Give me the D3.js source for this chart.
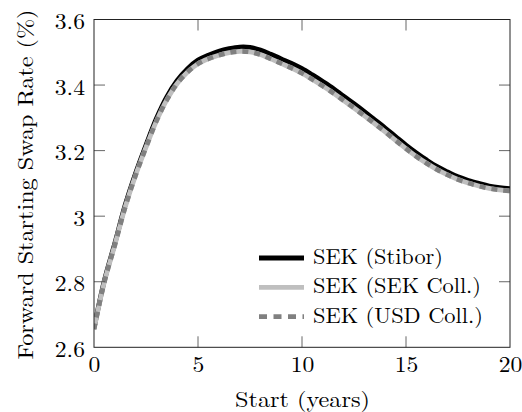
<!DOCTYPE html>
<html>
<head>
<meta charset="utf-8">
<script src="https://cdn.jsdelivr.net/npm/d3@7"></script>
<style>
  html, body { margin: 0; padding: 0; background: #fff; }
  svg { display: block; }
  svg text { font-family: "Latin Modern Roman", "CMU Serif", "Liberation Serif", serif; fill: #000; }
</style>
</head>
<body>
<svg id="chart" width="522" height="412"></svg>
<script>
// ---- data ----
const startYears = [0, 0.5, 1, 1.5, 2, 2.5, 3, 3.5, 4, 4.5, 5, 5.5, 6, 6.5, 7, 7.5, 8, 8.5, 9, 9.5, 10,
  10.5, 11, 11.5, 12, 12.5, 13, 13.5, 14, 14.5, 15, 15.5, 16, 16.5, 17, 17.5, 18, 18.5, 19, 19.5, 20];
const sekStibor = [2.658, 2.804, 2.917, 3.034, 3.131, 3.217, 3.298, 3.364, 3.414, 3.450, 3.476, 3.491, 3.503,
  3.511, 3.516, 3.515, 3.507, 3.494, 3.480, 3.466, 3.450, 3.431, 3.411, 3.390, 3.366, 3.343, 3.319, 3.294,
  3.269, 3.243, 3.217, 3.193, 3.171, 3.151, 3.135, 3.120, 3.109, 3.100, 3.092, 3.087, 3.084];
const sekSekColl = [2.655, 2.800, 2.912, 3.028, 3.125, 3.210, 3.290, 3.355, 3.405, 3.440, 3.465, 3.480, 3.491,
  3.499, 3.503, 3.501, 3.493, 3.480, 3.466, 3.452, 3.436, 3.417, 3.397, 3.376, 3.353, 3.330, 3.306, 3.282,
  3.257, 3.231, 3.206, 3.182, 3.161, 3.142, 3.126, 3.112, 3.101, 3.092, 3.085, 3.080, 3.077];
const sekUsdColl = [2.655, 2.800, 2.912, 3.028, 3.125, 3.210, 3.290, 3.355, 3.405, 3.440, 3.465, 3.480, 3.491,
  3.499, 3.503, 3.501, 3.493, 3.480, 3.466, 3.452, 3.436, 3.417, 3.397, 3.376, 3.353, 3.330, 3.306, 3.282,
  3.257, 3.231, 3.206, 3.182, 3.161, 3.142, 3.126, 3.112, 3.101, 3.092, 3.085, 3.080, 3.077];
const seriesNames = ["SEK (Stibor)", "SEK (SEK Coll.)", "SEK (USD Coll.)"];
const xTicks = [0, 5, 10, 15, 20];
const yTicks = [2.6, 2.8, 3.0, 3.2, 3.4, 3.6];
const yTickLabels = ["2.6", "2.8", "3", "3.2", "3.4", "3.6"];
const xLabel = "Start (years)";
const yLabel = "Forward Starting Swap Rate (%)";

// ---- layout ----
const svg = d3.select("#chart");
const L = 94, R = 510, T = 19.5, B = 347.3;
const x = d3.scaleLinear().domain([0, 20]).range([L, R]);
const y = d3.scaleLinear().domain([2.6, 3.6]).range([B, T]);
const FS = 21.5;
const tickLen = 11;
const widen = 1.1;

const series = [
  { name: seriesNames[0], values: sekStibor, color: "#000000", width: 4.8, dash: null, legW: 130 },
  { name: seriesNames[1], values: sekSekColl, color: "#bfbfbf", width: 4.8, dash: null, legW: 168 },
  { name: seriesNames[2], values: sekUsdColl, color: "#808080", width: 4.8, dash: "6,6", legW: 170 }
];

const line = d3.line()
  .x(d => x(d[0]))
  .y(d => y(d[1]))
  .curve(d3.curveCatmullRom.alpha(0.5));

svg.append("clipPath").attr("id", "clip")
  .append("rect").attr("x", L).attr("y", T).attr("width", R - L).attr("height", B - T);

const lines = svg.append("g").attr("clip-path", "url(#clip)");
series.forEach(s => {
  lines.append("path")
    .datum(startYears.map((t, i) => [t, s.values[i]]))
    .attr("d", line)
    .attr("fill", "none")
    .attr("stroke", s.color)
    .attr("stroke-width", s.width)
    .attr("stroke-dasharray", s.dash)
    .attr("stroke-linejoin", "round");
});

// ticks (inside, mirrored)
const tk = svg.append("g").attr("stroke", "#555").attr("stroke-width", 0.9);
xTicks.forEach(v => {
  if (v === 0 || v === 20) return;
  tk.append("line").attr("x1", x(v)).attr("x2", x(v)).attr("y1", B).attr("y2", B - tickLen);
  tk.append("line").attr("x1", x(v)).attr("x2", x(v)).attr("y1", T).attr("y2", T + tickLen);
});
yTicks.forEach(v => {
  if (v === 2.6 || v === 3.6) return;
  tk.append("line").attr("x1", L).attr("x2", L + tickLen).attr("y1", y(v)).attr("y2", y(v));
  tk.append("line").attr("x1", R).attr("x2", R - tickLen).attr("y1", y(v)).attr("y2", y(v));
});

// frame
svg.append("rect")
  .attr("x", L).attr("y", T).attr("width", R - L).attr("height", B - T)
  .attr("fill", "none").attr("stroke", "#222").attr("stroke-width", 1);

function stretch(sel) {
  sel.each(function () {
    const w = this.getComputedTextLength();
    d3.select(this).attr("textLength", w * widen).attr("lengthAdjust", "spacingAndGlyphs");
  });
}

// tick labels
const xAxis = d3.axisBottom(x).tickValues(xTicks).tickSize(0).tickPadding(0);
const gx = svg.append("g").attr("transform", `translate(0,${B})`).call(xAxis).attr("font-family", null);
gx.select(".domain").remove();
gx.selectAll("text").attr("font-size", FS).attr("dy", null).attr("y", 25).call(stretch);

const yAxis = d3.axisLeft(y).tickValues(yTicks).tickSize(0).tickPadding(0)
  .tickFormat((d, i) => yTickLabels[i]);
const gy = svg.append("g").attr("transform", `translate(85,0)`).call(yAxis).attr("font-family", null);
gy.select(".domain").remove();
gy.selectAll("text").attr("font-size", FS).attr("x", 0).attr("dy", 9).call(stretch);

// axis titles
svg.append("text")
  .attr("x", (L + R) / 2 + 0.5).attr("y", 407)
  .attr("text-anchor", "middle").attr("font-size", FS)
  .attr("textLength", 135).attr("lengthAdjust", "spacingAndGlyphs")
  .text(xLabel);
svg.append("text")
  .attr("transform", `translate(32.5,${(9 + 360) / 2}) rotate(-90)`)
  .attr("text-anchor", "middle").attr("font-size", FS)
  .attr("textLength", 350).attr("lengthAdjust", "spacingAndGlyphs")
  .text(yLabel);

// legend
const legendY = [258, 287.3, 316.7];
const lg = svg.append("g");
series.forEach((s, i) => {
  lg.append("line")
    .attr("x1", 259).attr("x2", 304)
    .attr("y1", legendY[i]).attr("y2", legendY[i])
    .attr("stroke", s.color).attr("stroke-width", s.width)
    .attr("stroke-dasharray", s.dash ? "8,6.5" : null);
  lg.append("text")
    .attr("x", 313).attr("y", legendY[i] + 5.8)
    .attr("font-size", FS)
    .attr("textLength", s.legW).attr("lengthAdjust", "spacingAndGlyphs")
    .text(s.name);
});
</script>
</body>
</html>
